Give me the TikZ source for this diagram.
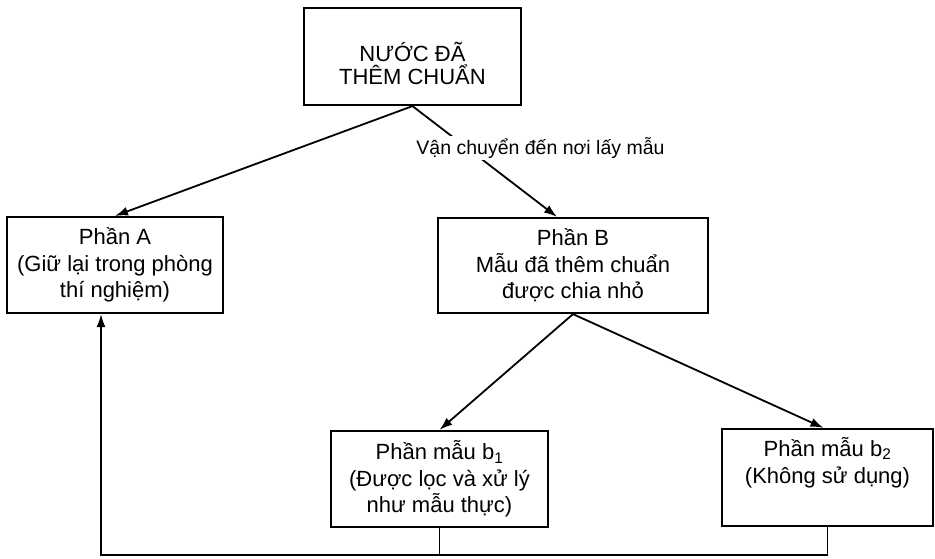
\documentclass[tikz,border=0pt]{standalone}
\usepackage{fontspec}
\setmainfont{Liberation Sans}
\usetikzlibrary{arrows.meta}
\begin{document}
\begin{tikzpicture}[x=1pt,y=1pt,
  box/.style={draw, line width=2.2pt, align=center, inner sep=0pt,
    font=\fontsize{22}{26.7}\selectfont},
  conn/.style={line width=1.8pt},
  arr/.style={conn, -{Latex[length=13pt,width=9pt]}},
  lbl/.style={fill=white, inner sep=1.5pt, font=\fontsize{19.5}{23}\selectfont}]
\useasboundingbox (0,0) rectangle (935,-558);
% boxes
\node[box, minimum width=217pt, minimum height=97pt] (top) at (412.5,-56.5) {};
\node[align=center, inner sep=0pt, font=\fontsize{22}{23}\selectfont]
  (toptext) at (412.5,-63) {NƯỚC ĐÃ\\THÊM CHUẨN};
\node[box, minimum width=216pt, minimum height=96pt] (A) at (115,-265)
  {Phần A\\(Giữ lại trong phòng\\thí nghiệm)};
\node[box, minimum width=270pt, minimum height=95pt] (B) at (573,-265.5)
  {Phần B\\Mẫu đã thêm chuẩn\\được chia nhỏ};
\node[box, minimum width=217pt, minimum height=96pt] (b1) at (439.5,-479)
  {Phần mẫu b\textsubscript{1}\\(Được lọc và xử lý\\như mẫu thực)};
\node[box, minimum width=211pt, minimum height=97pt] (b2) at (827.5,-477.5)
  {Phần mẫu b\textsubscript{2}\\(Không sử dụng)\\\strut};
% connectors
\draw[arr] (top.south) -- (A.north);
\draw[arr] (top.south) -- ([xshift=-16pt]B.north);
\node[lbl] (t) at (540.5,-148) {Vận chuyển đến nơi lấy mẫu};
\draw[arr] (B.south) -- (b1.north);
\draw[arr] (B.south) -- ([xshift=-4pt]b2.north);
\coordinate (bl) at (101,-555);
\draw[conn] (b1.south) -- (b1.south |- bl);
\draw[arr] (b2.south) |- (bl) -- ([xshift=-14pt]A.south);
\end{tikzpicture}
\end{document}
